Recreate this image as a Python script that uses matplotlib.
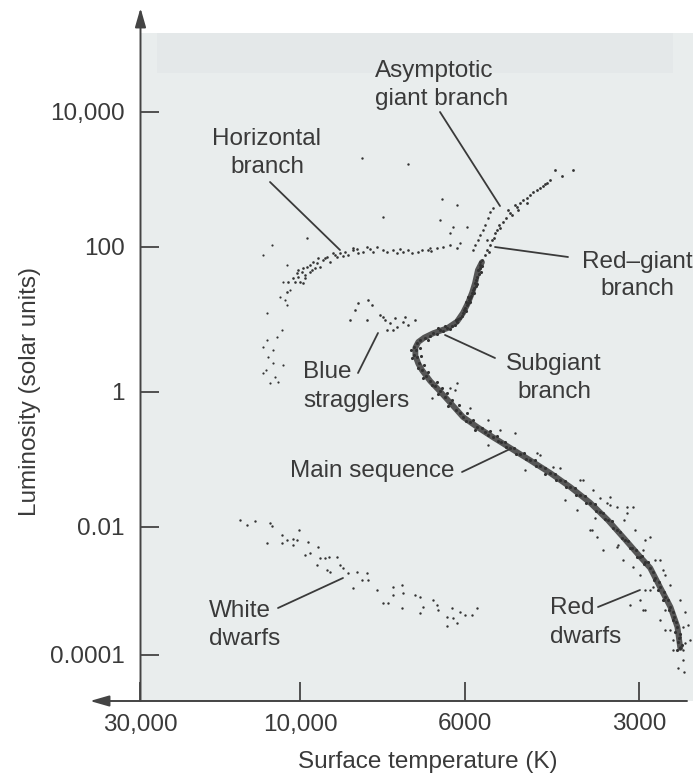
import numpy as np
import matplotlib.pyplot as plt

plt.rcParams['font.family'] = ['Liberation Sans', 'DejaVu Sans']

# ---- data: (log10 T [K], log10 L [solar]) ----
hb = [(4.015, 1.52), (4.009, 1.64), (4.006, 1.68), (3.997, 1.66), (3.996, 1.71), (3.993, 1.61),
      (3.991, 1.72), (3.987, 1.75), (3.984, 1.68), (3.983, 1.79), (3.977, 1.78), (3.976, 1.85),
      (3.973, 1.72), (3.969, 1.82), (3.964, 1.86), (3.960, 1.79), (3.956, 1.92), (3.950, 1.86),
      (3.946, 1.92), (3.939, 1.93), (3.935, 1.89), (3.929, 1.96), (3.922, 1.92), (3.915, 1.93),
      (3.910, 2.00), (3.896, 2.00), (3.883, 1.93), (3.875, 1.96), (3.870, 1.92), (3.861, 1.93),
      (3.855, 1.96), (3.849, 1.92), (3.841, 1.93), (4.000, 1.52), (3.996, 1.50), (4.021, 1.57),
      (4.036, 1.52), (4.039, 1.38), (3.929, 1.99), (3.906, 1.97), (3.828, 1.96), (3.816, 1.99),
      (3.808, 2.00), (3.798, 2.03), (3.866, 1.97), (3.888, 1.96), (3.987, 1.66), (3.993, 1.57),
      (3.966, 1.85), (3.980, 1.71), (4.006, 1.58), (3.953, 1.89), (3.942, 1.88), (3.923, 1.97),
      (3.902, 1.93), (3.836, 1.96), (3.824, 1.94), (3.789, 1.99)]

hb_blue = [(4.110, 1.89), (4.039, 1.75), (4.051, 1.52), (4.060, 1.31), (4.039, 1.20), (4.098, 1.09),
           (4.054, 0.86), (4.069, 0.76), (4.098, 0.72), (4.110, 0.62), (4.081, 0.58), (4.095, 0.48),
           (4.081, 0.40), (4.110, 0.26), (4.075, 0.21), (4.090, 0.13), (4.051, 0.37), (4.066, 0.14),
           (4.045, 1.27), (4.084, 2.03), (4.030, 1.41), (4.101, 0.30)]

bright = [(3.991, 2.13), (3.917, 3.32), (3.855, 3.23), (3.809, 2.71), (3.789, 2.62), (3.888, 2.44),
          (3.812, 2.40), (3.794, 2.30), (3.775, 2.30), (3.798, 2.21), (3.785, 2.06), (3.825, 1.99)]

stragglers = [(3.933, 0.99), (3.926, 1.13), (3.922, 1.23), (3.909, 1.27), (3.910, 0.99), (3.892, 1.06),
              (3.886, 0.99), (3.879, 0.95), (3.872, 1.02), (3.870, 0.90), (3.861, 0.97), (3.859, 1.03),
              (3.855, 0.92), (3.875, 0.86), (3.883, 0.86), (3.888, 1.03), (3.903, 1.20), (3.845, 0.99)]

subgiants = [(3.832, 0.75), (3.821, 0.81), (3.812, 0.86), (3.802, 0.88), (3.796, 0.91), (3.789, 0.97),
             (3.785, 1.02), (3.781, 1.09), (3.778, 1.16), (3.773, 1.23), (3.769, 1.30), (3.766, 1.37),
             (3.762, 1.43), (3.761, 1.50), (3.757, 1.59), (3.756, 1.68), (3.752, 1.75), (3.825, 0.77),
             (3.816, 0.80), (3.808, 0.84), (3.798, 0.87), (3.792, 0.92), (3.788, 1.01), (3.782, 1.05),
             (3.776, 1.12), (3.775, 1.20), (3.769, 1.24), (3.768, 1.32), (3.764, 1.41), (3.759, 1.46),
             (3.759, 1.54), (3.754, 1.63), (3.752, 1.71), (3.749, 1.74), (3.828, 0.72), (3.814, 0.88),
             (3.805, 0.91), (3.790, 0.99), (3.780, 1.13), (3.771, 1.27), (3.762, 1.37), (3.757, 1.49),
             (3.751, 1.66), (3.773, 1.31), (3.776, 1.24)]

giants = [(3.749, 1.82), (3.740, 1.96), (3.731, 2.10), (3.723, 2.25), (3.712, 2.37), (3.700, 2.50),
          (3.688, 2.59), (3.678, 2.70), (3.666, 2.77), (3.653, 2.84), (3.643, 2.90), (3.636, 2.95),
          (3.622, 3.14), (3.610, 3.05), (3.591, 3.14), (3.743, 1.89), (3.752, 1.79), (3.735, 2.03),
          (3.737, 1.93), (3.728, 2.13), (3.726, 2.21), (3.717, 2.28), (3.719, 2.33), (3.707, 2.43),
          (3.697, 2.47), (3.704, 2.55), (3.692, 2.62), (3.683, 2.65), (3.671, 2.73), (3.660, 2.82),
          (3.648, 2.87), (3.640, 2.93), (3.631, 2.99), (3.671, 2.65), (3.686, 2.55)]

agb = [(3.743, 2.33), (3.738, 2.43), (3.735, 2.52), (3.730, 2.58), (3.752, 2.18), (3.747, 2.25),
       (3.740, 2.10), (3.756, 2.10), (3.761, 2.03), (3.764, 1.96)]

main_seq = [(3.843, 0.68), (3.844, 0.58), (3.843, 0.48), (3.840, 0.40), (3.836, 0.30), (3.831, 0.22),
            (3.825, 0.15), (3.818, 0.08), (3.812, 0.01), (3.805, -0.07), (3.798, -0.16), (3.790, -0.27),
            (3.781, -0.37), (3.769, -0.44), (3.757, -0.52), (3.743, -0.59), (3.730, -0.67), (3.716, -0.74),
            (3.700, -0.83), (3.683, -0.92), (3.666, -1.01), (3.648, -1.10), (3.631, -1.20), (3.614, -1.30),
            (3.596, -1.41), (3.579, -1.53), (3.562, -1.64), (3.544, -1.78), (3.531, -1.90), (3.515, -2.05),
            (3.501, -2.20), (3.489, -2.33), (3.475, -2.47), (3.467, -2.55), (3.458, -2.64), (3.449, -2.80),
            (3.441, -2.94), (3.432, -3.09), (3.423, -3.25), (3.416, -3.41), (3.411, -3.56), (3.408, -3.73),
            (3.406, -3.89), (3.839, 0.72), (3.847, 0.62), (3.847, 0.51),
            (3.851, 0.58), (3.849, 0.47), (3.839, 0.61), (3.837, 0.50), (3.841, 0.33), (3.833, 0.37),
            (3.828, 0.28), (3.835, 0.19), (3.822, 0.10), (3.816, 0.14), (3.809, 0.06), (3.814, -0.03),
            (3.802, -0.01), (3.796, -0.12), (3.801, -0.21), (3.787, -0.19), (3.785, -0.31), (3.775, -0.31),
            (3.776, -0.43), (3.764, -0.41), (3.761, -0.56), (3.749, -0.53), (3.738, -0.64), (3.735, -0.58),
            (3.723, -0.65), (3.721, -0.73), (3.709, -0.74), (3.707, -0.81), (3.693, -0.83), (3.690, -0.92),
            (3.676, -0.90), (3.672, -0.99), (3.657, -1.01), (3.655, -1.10), (3.640, -1.13), (3.640, -1.21),
            (3.622, -1.21), (3.621, -1.30), (3.605, -1.32), (3.603, -1.41), (3.588, -1.42), (3.586, -1.53),
            (3.570, -1.54), (3.569, -1.64), (3.553, -1.66), (3.551, -1.76), (3.539, -1.79), (3.536, -1.88),
            (3.524, -1.91), (3.522, -2.02), (3.510, -2.08), (3.506, -2.17), (3.496, -2.22), (3.493, -2.33),
            (3.482, -2.36), (3.480, -2.47), (3.472, -2.45), (3.468, -2.58), (3.461, -2.55), (3.454, -2.70),
            (3.452, -2.83), (3.443, -2.86), (3.445, -2.98), (3.435, -3.02), (3.436, -3.14), (3.428, -3.14),
            (3.426, -3.30), (3.419, -3.33), (3.419, -3.45), (3.413, -3.48), (3.415, -3.64), (3.406, -3.67),
            (3.410, -3.80), (3.403, -3.84), (3.411, -3.92)]

ms_scatter = [(3.866, -0.04), (3.822, -0.09), (3.792, 0.03), (3.769, -0.24), (3.738, -0.78), (3.717, -0.56),
              (3.674, -1.16), (3.648, -0.93), (3.614, -1.13), (3.605, -1.60), (3.579, -1.30), (3.553, -1.87),
              (3.527, -1.67), (3.513, -2.28), (3.504, -1.90), (3.484, -2.05), (3.475, -2.75), (3.467, -2.20),
              (3.449, -2.52), (3.441, -2.52), (3.432, -2.75), (3.458, -2.98), (3.475, -3.14), (3.467, -3.30),
              (3.493, -3.22), (3.423, -2.91), (3.406, -3.14), (3.397, -3.33), (3.392, -3.53), (3.401, -4.08),
              (3.410, -4.20), (3.399, -4.27), (3.419, -3.92), (3.432, -3.61), (3.441, -3.45), (3.389, -3.77),
              (3.467, -2.98), (3.558, -2.05), (3.584, -1.75), (3.562, -2.05), (3.550, -2.16), (3.539, -2.36),
              (3.515, -2.31), (3.505, -2.52), (3.487, -2.63), (3.458, -2.16), (3.498, -1.79), (3.487, -1.70),
              (3.470, -2.36), (3.454, -2.94), (3.436, -2.67), (3.435, -3.14), (3.470, -3.30), (3.401, -3.56),
              (3.418, -3.77), (3.406, -3.88), (3.401, -3.92), (3.397, -3.81), (3.423, -3.61), (3.406, -3.72),
              (3.432, -3.30), (3.798, 0.06), (3.789, 0.13), (3.738, -0.41), (3.692, -0.61), (3.653, -0.90),
              (3.626, -1.11), (3.574, -1.30), (3.557, -1.45), (3.544, -1.57), (3.533, -1.64), (3.515, -1.70),
              (3.498, -1.70), (3.527, -1.55)]

white_dwarfs = [(4.179, -1.90), (4.158, -1.97), (4.134, -1.91), (4.090, -1.94), (4.084, -1.98), (4.098, -2.25),
                (4.054, -2.13), (4.054, -2.25), (4.039, -2.20), (4.021, -2.19), (4.009, -2.20), (4.003, -2.05),
                (4.021, -2.28), (3.989, -2.23), (3.993, -2.44), (3.987, -2.41), (3.976, -2.31), (3.973, -2.48),
                (3.966, -2.48), (3.961, -2.47), (3.977, -2.59), (3.964, -2.67), (3.960, -2.70), (3.950, -2.47),
                (3.946, -2.59), (3.942, -2.64), (3.935, -2.72), (3.923, -2.70), (3.917, -2.83), (3.910, -2.72),
                (3.909, -2.83), (3.929, -2.95), (3.896, -2.98), (3.888, -3.19), (3.882, -3.19), (3.875, -2.94),
                (3.875, -3.06), (3.863, -2.91), (3.861, -3.03), (3.863, -3.27), (3.845, -3.06), (3.839, -3.09),
                (3.835, -3.25), (3.839, -3.34), (3.821, -3.14), (3.816, -3.22), (3.814, -3.30), (3.802, -3.41),
                (3.796, -3.27), (3.794, -3.42), (3.789, -3.50), (3.802, -3.55), (3.785, -3.33), (3.778, -3.38),
                (3.766, -3.38), (3.757, -3.27)]

# fiducial (ridge) line of the dense sequence
ridge = [(3.749, 1.79), (3.756, 1.68), (3.761, 1.50), (3.766, 1.37), (3.773, 1.23), (3.781, 1.09),
         (3.789, 0.97), (3.802, 0.88), (3.821, 0.81), (3.833, 0.75), (3.841, 0.69), (3.845, 0.61),
         (3.845, 0.50), (3.841, 0.39), (3.836, 0.30), (3.825, 0.15), (3.812, 0.01), (3.798, -0.16),
         (3.781, -0.37), (3.757, -0.52), (3.730, -0.67), (3.700, -0.83), (3.666, -1.01), (3.631, -1.20),
         (3.596, -1.41), (3.562, -1.64), (3.531, -1.90), (3.501, -2.20), (3.475, -2.47), (3.458, -2.64),
         (3.441, -2.94), (3.423, -3.25), (3.411, -3.56), (3.406, -3.89)]

temp_ticks = [30000, 10000, 6000, 3000]
temp_labels = ['30,000', '10,000', '6000', '3000']
lum_ticks = [1e-4, 1e-2, 1, 1e2, 1e4]
lum_labels = ['0.0001', '0.01', '1', '100', '10,000']

# ---- schematic axis scales (the printed axes are not evenly logarithmic) ----
T_KNOTS = np.log10([3000, 6000, 10000, 30000])
T_SLOTS = np.array([-499.0, -325.0, -160.0, 0.0])
L_KNOTS = np.array([-4.0, -2.0, 0.0, 2.0, 4.0])
L_SLOTS = np.array([0.0, 128.0, 263.0, 408.0, 543.0])


def piecewise(v, xp, fp):
    v = np.asarray(v, dtype=float)
    out = np.interp(v, xp, fp)
    lo_slope = (fp[1] - fp[0]) / (xp[1] - xp[0])
    hi_slope = (fp[-1] - fp[-2]) / (xp[-1] - xp[-2])
    out = np.where(v < xp[0], fp[0] + (v - xp[0]) * lo_slope, out)
    out = np.where(v > xp[-1], fp[-1] + (v - xp[-1]) * hi_slope, out)
    return out


def t_fwd(t):
    return piecewise(np.log10(np.clip(t, 1e-6, None)), T_KNOTS, T_SLOTS)


def t_inv(p):
    return 10 ** piecewise(p, T_SLOTS, T_KNOTS)


def l_fwd(lum):
    return piecewise(np.log10(np.clip(lum, 1e-30, None)), L_KNOTS, L_SLOTS)


def l_inv(p):
    return 10 ** piecewise(p, L_SLOTS, L_KNOTS)


def unpack(pairs):
    a = np.array(pairs)
    return 10 ** a[:, 0], 10 ** a[:, 1]


W, H = 700, 776
fig = plt.figure(figsize=(W / 100, H / 100), dpi=100)
ax = fig.add_axes([140 / W, 75 / H, 553 / W, 668 / H])
ax.set_facecolor('#e9eded')
ax.set_xscale('function', functions=(t_fwd, t_inv))
ax.set_yscale('function', functions=(l_fwd, l_inv))

dot = '#333333'
ax.axhspan(10 ** 4.574, 10 ** 5.17, xmin=0.03, xmax=0.964, color='#e4e8e9', lw=0, zorder=0)

rt, rl = unpack(ridge)
ax.plot(rt, rl, color='#3c3c3c', lw=4.2, alpha=0.85, solid_capstyle='round', zorder=2)

for group, size in [(hb, 3.5), (hb_blue, 2.5), (bright, 3), (stragglers, 3.5), (subgiants, 5),
                    (giants, 4), (agb, 3.5), (main_seq, 5), (ms_scatter, 3), (white_dwarfs, 3)]:
    t, lum = unpack(group)
    ax.scatter(t, lum, s=size, c=dot, linewidths=0, zorder=3)

ax.set_xlim(30000, 10 ** 3.384)
ax.set_ylim(10 ** -4.719, 10 ** 5.17)

ax.set_xticks(temp_ticks)
ax.set_xticklabels(temp_labels)
ax.set_yticks(lum_ticks)
ax.set_yticklabels(lum_labels)
ax.minorticks_off()
ax.tick_params(direction='in', length=14, width=1.3, color='#444444',
               labelsize=17.5, labelcolor='#3a3a3a')
ax.tick_params(axis='x', pad=9)
ax.tick_params(axis='y', pad=11)
for sp in ax.spines.values():
    sp.set_visible(False)

# axis lines with arrow heads
arrow = dict(arrowstyle='-|>,head_length=1.15,head_width=0.33', color='#444444', lw=1.4,
             shrinkA=0, shrinkB=0, mutation_scale=10)
ax.annotate('', xy=(140.5, H - 8), xytext=(140.5, H - 701), xycoords='figure pixels', arrowprops=arrow)
ax.annotate('', xy=(90, H - 701), xytext=(687, H - 701), xycoords='figure pixels', arrowprops=arrow)

txt = '#3a3a3a'
fig.text(30 / W, 1 - 391 / H, 'Luminosity (solar units)', rotation=90, ha='center', va='center',
         fontsize=17.5, color=txt)
fig.text(428 / W, 1 - 762 / H, 'Surface temperature (K)', ha='center', va='center',
         fontsize=17.5, color=txt)

# labels: (text, x, baseline y, ha) in image pixels
labels = [
    ('Asymptotic', 375, 77, 'left'), ('giant branch', 375, 105, 'left'),
    ('Horizontal', 267, 145, 'center'), ('branch', 267, 173, 'center'),
    ('Red\u2013giant', 637, 268, 'center'), ('branch', 637, 295, 'center'),
    ('Subgiant', 554, 370, 'center'), ('branch', 554, 398, 'center'),
    ('Blue', 303, 378, 'left'), ('stragglers', 303, 407, 'left'),
    ('Main sequence', 290, 477, 'left'),
    ('White', 209, 617, 'left'), ('dwarfs', 209, 645, 'left'),
    ('Red', 550, 614, 'left'), ('dwarfs', 550, 643, 'left'),
]
for s, x, y, ha in labels:
    fig.text(x / W, 1 - y / H, s, ha=ha, va='baseline', fontsize=17.5, color=txt)

leaders = [((440, 112), (500, 206)), ((270, 182), (340, 250)), ((495, 247), (568, 257)),
           ((445, 335), (495, 358)), ((358, 373), (378, 333)), ((462, 472), (510, 449)),
           ((278, 608), (343, 578)), ((598, 607), (640, 590))]
for (x0, y0), (x1, y1) in leaders:
    ax.annotate('', xy=(x1, H - y1), xytext=(x0, H - y0), xycoords='figure pixels',
                arrowprops=dict(arrowstyle='-', color='#3a3a3a', lw=1.3, shrinkA=0, shrinkB=0))

fig.savefig('out.png', dpi=100)
